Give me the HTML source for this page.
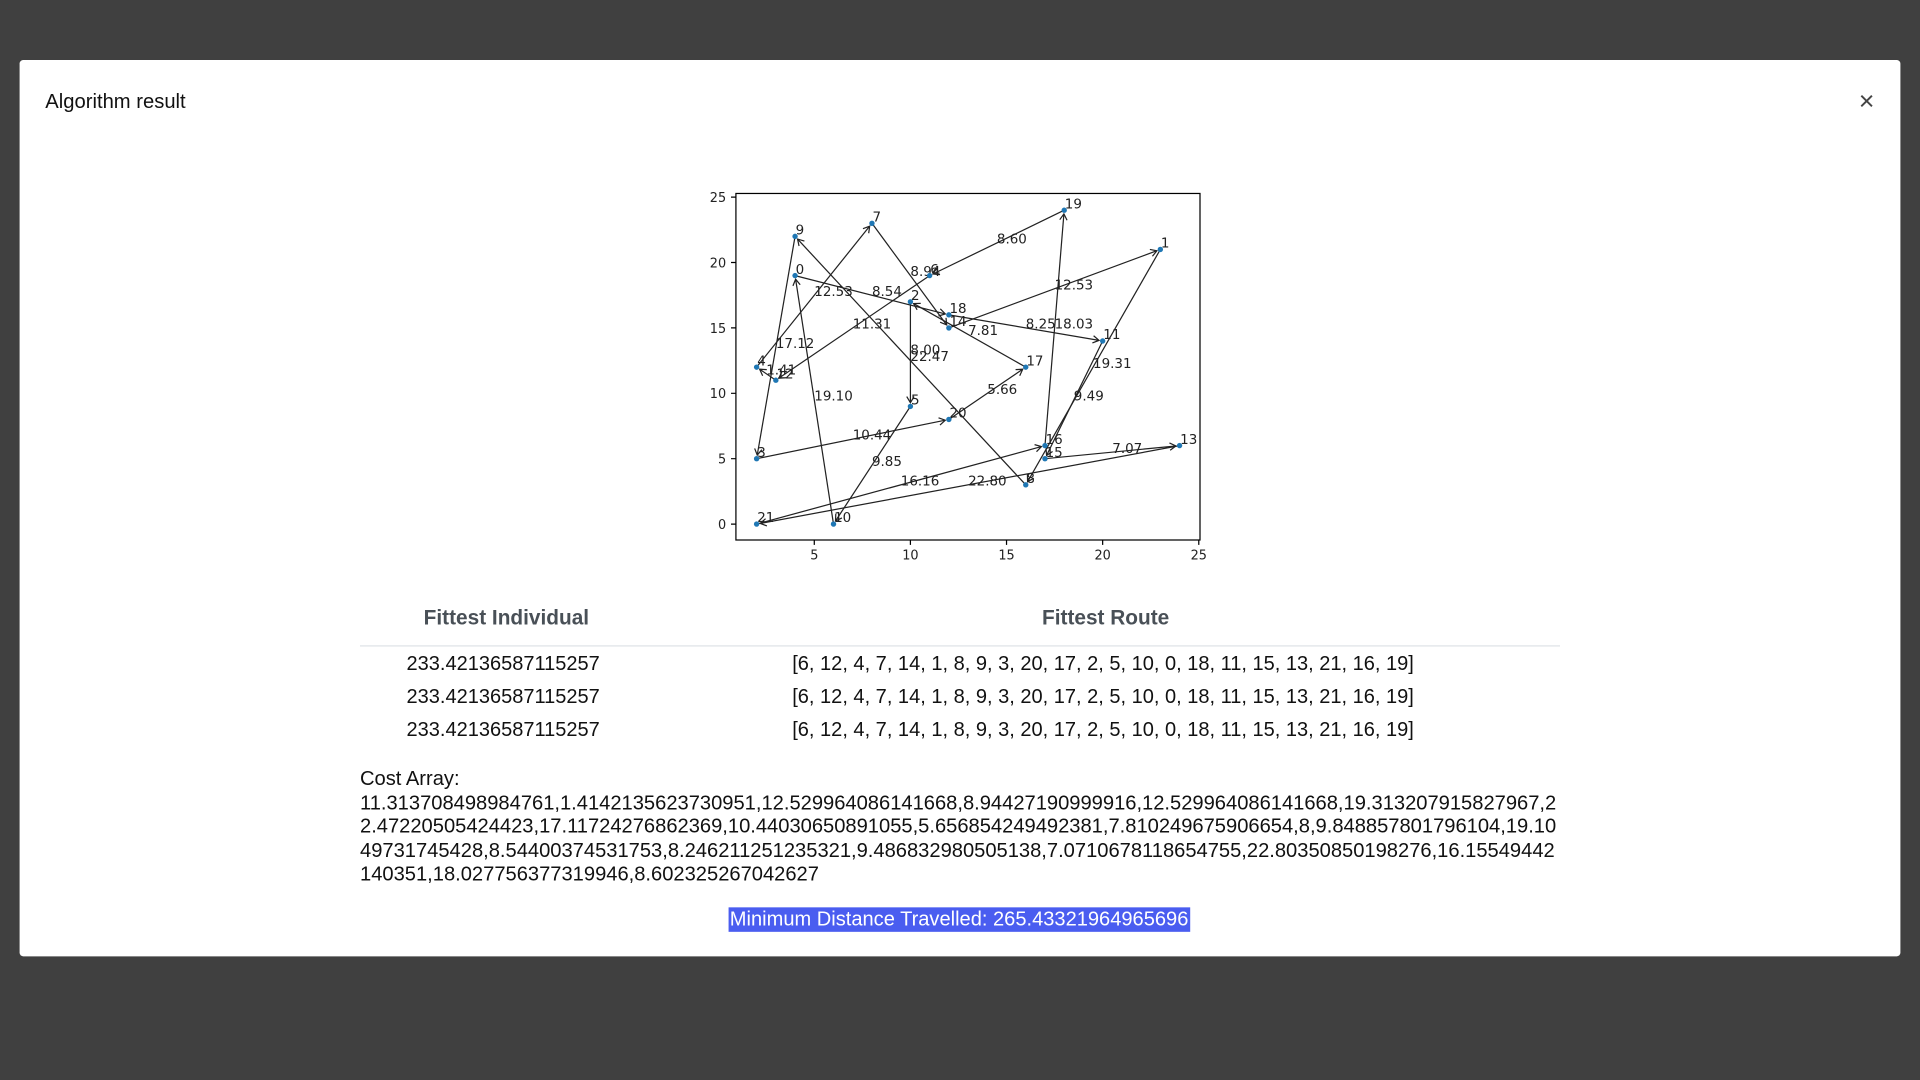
<!DOCTYPE html>
<html><head><meta charset="utf-8">
<style>
html,body{margin:0;padding:0;width:1920px;height:1080px;overflow:hidden;background:#404040;font-family:"Liberation Sans",Arial,sans-serif;}
#wrap{position:absolute;left:0;top:0;width:1568px;height:882px;transform:scale(1.2244898);transform-origin:0 0;}
.modal{position:absolute;left:16px;top:49px;width:1536px;height:732px;background:#fff;border-radius:3px;}
.title{position:absolute;left:21px;top:25px;font-size:16.5px;color:#111;}
.close{position:absolute;left:1502px;top:22px;font-size:22px;color:#444;line-height:24px;}
.abs{position:absolute;}
.th{font-size:17px;font-weight:bold;color:#495057;}
.td{font-size:16.35px;color:#111;}
.cost{position:absolute;left:278px;top:578px;font-size:16.45px;line-height:19.6px;color:#111;white-space:pre;}
.hl{position:absolute;left:579px;top:692px;height:20px;background:#4a5df0;color:#fff;font-size:16.4px;line-height:20px;padding:0 1px;}
</style></head><body>
<div id="wrap">
<div class="modal">
 <div class="title">Algorithm result</div>
 <div class="close">×</div>
 <svg id="chart" class="abs" style="left:544px;top:101px" width="460" height="320"></svg>
 <div class="abs th" style="left:330px;top:446px">Fittest Individual</div>
 <div class="abs th" style="left:835px;top:446px">Fittest Route</div>
 <div class="abs" style="left:278px;top:478px;width:980px;height:1px;background:#dee2e6"></div>
 <div class="abs td" style="left:316px;top:484px">233.42136587115257</div>
 <div class="abs td" style="left:631px;top:484px">[6, 12, 4, 7, 14, 1, 8, 9, 3, 20, 17, 2, 5, 10, 0, 18, 11, 15, 13, 21, 16, 19]</div>
 <div class="abs td" style="left:316px;top:511px">233.42136587115257</div>
 <div class="abs td" style="left:631px;top:511px">[6, 12, 4, 7, 14, 1, 8, 9, 3, 20, 17, 2, 5, 10, 0, 18, 11, 15, 13, 21, 16, 19]</div>
 <div class="abs td" style="left:316px;top:538px">233.42136587115257</div>
 <div class="abs td" style="left:631px;top:538px">[6, 12, 4, 7, 14, 1, 8, 9, 3, 20, 17, 2, 5, 10, 0, 18, 11, 15, 13, 21, 16, 19]</div>
 <div class="cost">Cost Array:
11.313708498984761,1.4142135623730951,12.529964086141668,8.94427190999916,12.529964086141668,19.313207915827967,2
2.47220505424423,17.11724276862369,10.44030650891055,5.656854249492381,7.810249675906654,8,9.848857801796104,19.10
49731745428,8.54400374531753,8.246211251235321,9.486832980505138,7.0710678118654755,22.80350850198276,16.15549442
140351,18.027756377319946,8.602325267042627</div>
 <div class="hl">Minimum Distance Travelled: 265.43321964965696</div>
</div>
</div>
<script>
const xs=[4,23,10,2,2,10,11,8,16,4,6,20,3,24,12,17,17,16,12,18,12,2];
const ys=[19,21,17,5,12,9,19,23,3,22,0,14,11,6,15,5,6,12,16,24,8,0];
const route=[6,12,4,7,14,1,8,9,3,20,17,2,5,10,0,18,11,15,13,21,16,19];
const costs=["11.31","1.41","12.53","8.94","12.53","19.31","22.47","17.12","10.44","5.66","7.81","8.00","9.85","19.10","8.54","8.25","9.49","7.07","22.80","16.16","18.03","8.60"];
const xTicks=[5,10,15,20,25];
const yTicks=[0,5,10,15,20,25];
const NS="http://www.w3.org/2000/svg";
const svg=document.getElementById('chart');
const ox=560, oy=150;
function X(v){return 665-ox+(v-5)*15.7;}
function Y(v){return 428-oy-v*10.68;}
function mk(t,a){const e=document.createElementNS(NS,t);for(const k in a)e.setAttribute(k,a[k]);svg.appendChild(e);return e;}
const defs=mk('defs',{});
const m=document.createElementNS(NS,'marker');
m.setAttribute('id','ah');m.setAttribute('markerWidth','8');m.setAttribute('markerHeight','8');m.setAttribute('refX','6');m.setAttribute('refY','4');m.setAttribute('orient','auto');m.setAttribute('markerUnits','userSpaceOnUse');
const mp=document.createElementNS(NS,'path');mp.setAttribute('d','M1,1 L6,4 L1,7');mp.setAttribute('fill','none');mp.setAttribute('stroke','#222');mp.setAttribute('stroke-width','1');
m.appendChild(mp);defs.appendChild(m);
const fr=mk('rect',{x:601-ox,y:158-oy,width:379,height:283,fill:'none',stroke:'#000','stroke-width':1});

xTicks.forEach(t=>{mk('line',{x1:X(t),x2:X(t),y1:441-oy,y2:445-oy,stroke:'#000'});
 const tx=mk('text',{x:X(t),y:457-oy,'font-size':10.5,'text-anchor':'middle',fill:'#222','font-family':'DejaVu Sans, sans-serif'});tx.textContent=t;
 });
yTicks.forEach(t=>{mk('line',{x1:597-ox,x2:601-ox,y1:Y(t),y2:Y(t),stroke:'#000'});
 const tx=mk('text',{x:593-ox,y:Y(t)+4,'font-size':10.5,'text-anchor':'end',fill:'#222','font-family':'DejaVu Sans, sans-serif'});tx.textContent=t;
 });
for(let i=0;i<route.length;i++){
 const a=route[i],b=route[(i+1)%route.length];
 const x1=X(xs[a]),y1=Y(ys[a]),x2=X(xs[b]),y2=Y(ys[b]);
 const d=Math.hypot(x2-x1,y2-y1),s=3;
 const l=mk('line',{x1:x1,y1:y1,x2:x2-(x2-x1)/d*s,y2:y2-(y2-y1)/d*s,stroke:'#222','stroke-width':1,'marker-end':'url(#ah)'});
 
 const t=mk('text',{x:(x1+x2)/2,y:(y1+y2)/2+0.5,'font-size':11,'text-anchor':'start',fill:'#222','font-family':'DejaVu Sans, sans-serif'});
 t.textContent=costs[i];
 
}
for(let i=0;i<xs.length;i++){
 const c=mk('circle',{cx:X(xs[i]),cy:Y(ys[i]),r:2.2,fill:'#1f77b4'});
 
 const t=mk('text',{x:X(xs[i])+0.5,y:Y(ys[i])-1.5,'font-size':11,fill:'#222','font-family':'DejaVu Sans, sans-serif'});
 t.textContent=i;
 
}
</script>
</body></html>
